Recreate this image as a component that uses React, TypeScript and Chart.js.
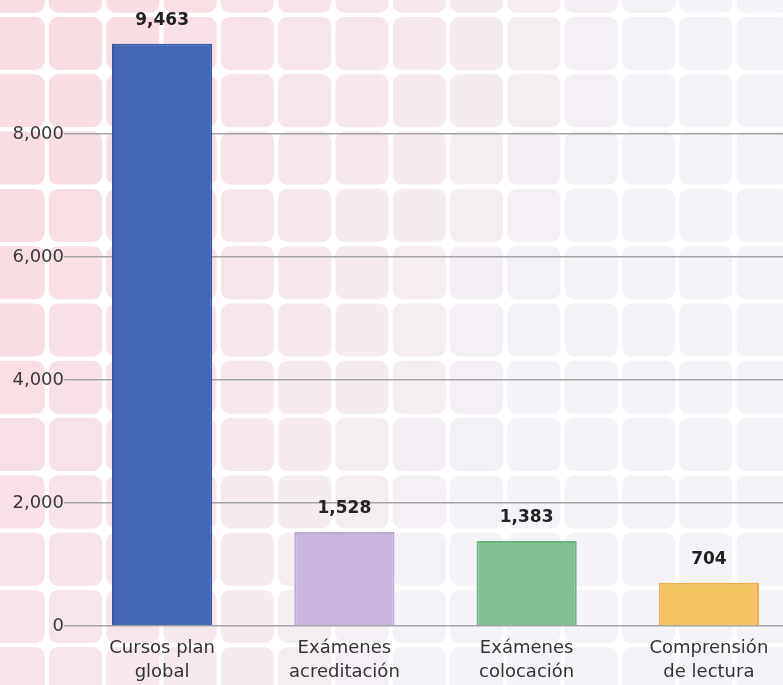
import React, { useEffect, useRef } from "react";
import { Chart, registerables } from "chart.js";

Chart.register(...registerables);

const categories: string[][] = [
  ["Cursos plan", "global"],
  ["Exámenes", "acreditación"],
  ["Exámenes", "colocación"],
  ["Comprensión", "de lectura"],
];
const values: number[] = [9463, 1528, 1383, 704];
const barColors: string[] = ["#4467b3", "#c8b5dc", "#80c191", "#f5c463"];
const barBorders: string[] = ["#3558a8", "#bca8d1", "#6cb27e", "#ecb24f"];
const yTicks: number[] = [0, 2000, 4000, 6000, 8000];

const FONT = "'DejaVu Sans', sans-serif";

const bgPlugin = {
  id: "tileBg",
  beforeDraw(chart: any) {
    const ctx = chart.ctx as CanvasRenderingContext2D;
    const w = chart.width;
    const h = chart.height;
    ctx.save();
    ctx.fillStyle = "#ffffff";
    ctx.fillRect(0, 0, w, h);
    const pitch = 57.3;
    const size = 53;
    const x0 = 49 - pitch;
    const y0 = 17 - pitch;
    const P = [248, 222, 227];
    const L = [243, 243, 248];
    for (let yy = y0; yy < h; yy += pitch) {
      for (let xx = x0; xx < w; xx += pitch) {
        const cx = xx + size / 2;
        const cy = yy + size / 2;
        let t = 1.25 - cx / 560 - cy / 1400;
        t = Math.max(0, Math.min(1, t));
        const c = P.map((p, i) => Math.round(L[i] + (p - L[i]) * t));
        ctx.fillStyle = `rgb(${c[0]},${c[1]},${c[2]})`;
        ctx.beginPath();
        (ctx as any).roundRect(xx, yy, size, size, 9);
        ctx.fill();
      }
    }
    ctx.restore();
  },
};

const valueLabelPlugin = {
  id: "valueLabels",
  afterDatasetsDraw(chart: any) {
    const ctx = chart.ctx as CanvasRenderingContext2D;
    const meta = chart.getDatasetMeta(0);
    ctx.save();
    ctx.font = `bold 17px ${FONT}`;
    ctx.fillStyle = "#222222";
    ctx.textAlign = "center";
    ctx.textBaseline = "middle";
    meta.data.forEach((bar: any, i: number) => {
      const v = values[i];
      ctx.fillText(v.toLocaleString("en-US"), bar.x, bar.y - 23);
    });
    ctx.restore();
  },
};

export default function App() {
  const ref = useRef<HTMLCanvasElement | null>(null);
  useEffect(() => {
    if (!ref.current) return;
    const chart = new Chart(ref.current, {
      type: "bar",
      data: {
        labels: categories,
        datasets: [
          {
            data: values,
            backgroundColor: barColors,
            borderColor: barBorders,
            borderWidth: 2,
            barPercentage: 0.55,
            categoryPercentage: 1,
          },
        ],
      },
      options: {
        responsive: false,
        animation: false,
        layout: { padding: { top: 7, left: 0, right: 0, bottom: 0 } },
        plugins: {
          legend: { display: false },
          tooltip: { enabled: false },
        },
        scales: {
          x: {
            grid: { display: false },
            border: { display: false },
            ticks: {
              color: "#333333",
              font: { family: FONT, size: 18, lineHeight: 1.33 },
              padding: 2,
              maxRotation: 0,
            },
            afterFit: (scale: any) => {
              scale.height = 59;
            },
          },
          y: {
            min: 0,
            max: 10000,
            afterBuildTicks: (scale: any) => {
              scale.ticks = yTicks.map((v) => ({ value: v }));
            },
            grid: {
              color: "#a4a4a4",
              lineWidth: 1.5,
              tickLength: 7,
            },
            border: { display: false },
            ticks: {
              color: "#3a3a3a",
              font: { family: FONT, size: 18 },
              padding: 0,
              callback: (v: any) => Number(v).toLocaleString("en-US"),
            },
            afterFit: (scale: any) => {
              scale.width = 71;
            },
          },
        },
      },
      plugins: [bgPlugin, valueLabelPlugin],
    });
    return () => chart.destroy();
  }, []);
  return (
    <div
      style={{
        position: "fixed",
        left: 0,
        top: 0,
        width: 783,
        height: 685,
        overflow: "hidden",
        background: "#fff",
      }}
    >
      <canvas ref={ref} width={800} height={685} style={{ display: "block" }} />
    </div>
  );
}
